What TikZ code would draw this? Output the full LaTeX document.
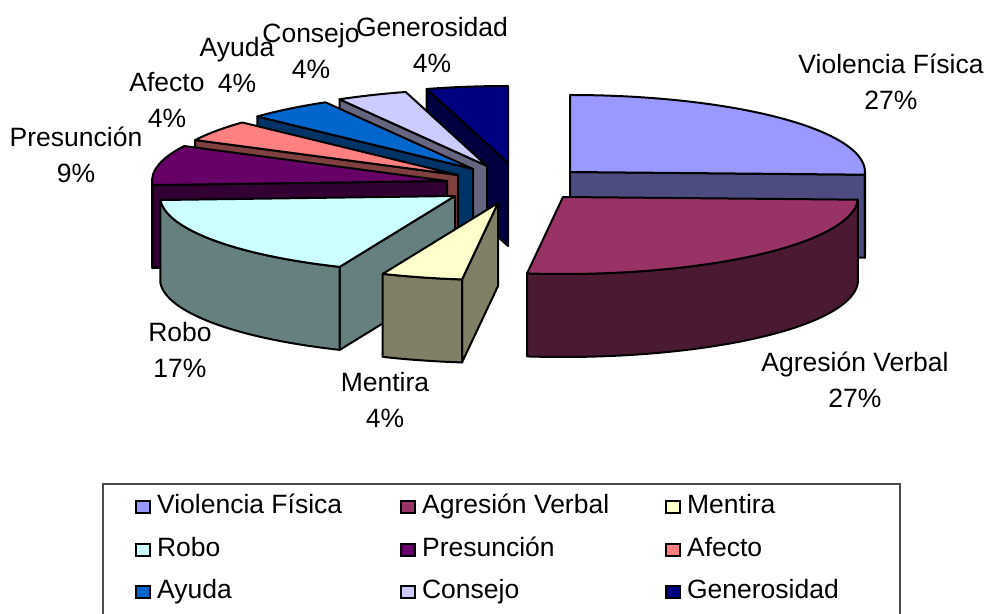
\documentclass[tikz,border=0pt]{standalone}
\usepackage{fontspec}
\setmainfont{Liberation Sans}
\usepackage{tikz}
\usetikzlibrary{positioning}

\definecolor{violencia}{HTML}{9999FF}
\definecolor{agresion}{HTML}{993366}
\definecolor{mentira}{HTML}{FFFFCC}
\definecolor{robo}{HTML}{CCFFFF}
\definecolor{presuncion}{HTML}{660066}
\definecolor{afecto}{HTML}{FF8080}
\definecolor{ayuda}{HTML}{0066CC}
\definecolor{consejo}{HTML}{CCCCFF}
\definecolor{generosidad}{HTML}{000080}

\begin{document}
\begin{tikzpicture}[x=0.5pt,y=-0.5pt,
        pie/.style={x radius=295,y radius=77},
        piece/.style={draw=black,line width=1pt,line join=round},
        lbl/.style={align=center,inner sep=0pt,font=\fontsize{13.25}{18}\selectfont},
        key/.style={draw=black,line width=0.7pt,minimum width=7pt,minimum height=6pt,inner sep=0pt},
        keytext/.style={inner sep=0pt,text height=9.5pt,text depth=2.8pt,font=\fontsize{13.25}{16}\selectfont}]
    \useasboundingbox (0,0) rectangle (992,614);

    % back slices first
    \begin{scope}[shift={(508,163)}] % Generosidad
        \filldraw[piece,fill=generosidad!50!black] (0,0) -- (254:295 and 77) -- ++(0,83) -- (0,83) -- cycle;
        \filldraw[piece,fill=generosidad] (0,0) -- (254:295 and 77) arc[pie,start angle=254,end angle=270] -- cycle;
    \end{scope}
    \begin{scope}[shift={(487,166)}] % Consejo
        \filldraw[piece,fill=consejo!50!black] (0,0) -- (240:295 and 77) -- ++(0,83) -- (0,83) -- cycle;
        \filldraw[piece,fill=consejo] (0,0) -- (240:295 and 77) arc[pie,start angle=240,end angle=254] -- cycle;
    \end{scope}
    \begin{scope}[shift={(473,169)}] % Ayuda
        \filldraw[piece,fill=ayuda!50!black] (0,0) -- (223:295 and 77) -- ++(0,83) -- (0,83) -- cycle;
        \filldraw[piece,fill=ayuda] (0,0) -- (223:295 and 77) arc[pie,start angle=223,end angle=240] -- cycle;
    \end{scope}
    \begin{scope}[shift={(458,175)}] % Afecto
        \filldraw[piece,fill=afecto!50!black] (0,0) -- (207:295 and 77) -- ++(0,83) -- (0,83) -- cycle;
        \filldraw[piece,fill=afecto] (0,0) -- (207:295 and 77) arc[pie,start angle=207,end angle=223] -- cycle;
    \end{scope}
    \begin{scope}[shift={(447,181)}] % Presuncion
        \filldraw[piece,fill=presuncion!50!black] (0,0) -- (177:295 and 77) -- ++(0,83) -- (0,83) -- cycle;
        \filldraw[piece,fill=presuncion!50!black] (177:295 and 77) arc[pie,start angle=177,end angle=180] -- ++(0,83) arc[pie,start angle=180,end angle=177] -- cycle;
        \filldraw[piece,fill=presuncion] (0,0) -- (177:295 and 77) arc[pie,start angle=177,end angle=207] -- cycle;
    \end{scope}
    \begin{scope}[shift={(455,196)}] % Robo
        \filldraw[piece,fill=robo!50!black] (0,0) -- (113:295 and 77) -- ++(0,83) -- (0,83) -- cycle;
        \filldraw[piece,fill=robo!50!black] (113:295 and 77) arc[pie,start angle=113,end angle=177] -- ++(0,83) arc[pie,start angle=177,end angle=113] -- cycle;
        \filldraw[piece,fill=robo] (0,0) -- (113:295 and 77) arc[pie,start angle=113,end angle=177] -- cycle;
    \end{scope}
    \begin{scope}[shift={(498,203)}] % Mentira
        \filldraw[piece,fill=mentira!50!black] (0,0) -- (97:295 and 77) -- ++(0,83) -- (0,83) -- cycle;
        \filldraw[piece,fill=mentira!50!black] (97:295 and 77) arc[pie,start angle=97,end angle=113] -- ++(0,83) arc[pie,start angle=113,end angle=97] -- cycle;
        \filldraw[piece,fill=mentira] (0,0) -- (97:295 and 77) arc[pie,start angle=97,end angle=113] -- cycle;
    \end{scope}
    \begin{scope}[shift={(570,172)}] % Violencia Fisica
        \filldraw[piece,fill=violencia!50!black] (0,0) -- (2:295 and 77) -- ++(0,83) -- (0,83) -- cycle;
        \filldraw[piece,fill=violencia!50!black] (0:295 and 77) arc[pie,start angle=0,end angle=2] -- ++(0,83) arc[pie,start angle=2,end angle=0] -- cycle;
        \filldraw[piece,fill=violencia] (0,0) -- (-90:295 and 77) arc[pie,start angle=-90,end angle=2] -- cycle;
    \end{scope}
    \begin{scope}[shift={(563,197)}] % Agresion Verbal
        \filldraw[piece,fill=agresion!50!black] (2:295 and 77) arc[pie,start angle=2,end angle=97] -- ++(0,83) arc[pie,start angle=97,end angle=2] -- cycle;
        \filldraw[piece,fill=agresion] (0,0) -- (2:295 and 77) arc[pie,start angle=2,end angle=97] -- cycle;
    \end{scope}

    % data labels
    \node[lbl] (lviolencia) at (891,82) {Violencia Física\\27\%};
    \node[lbl] (lagresion) at (855,380) {Agresión Verbal\\27\%};
    \node[lbl] (lmentira) at (385,400) {Mentira\\4\%};
    \node[lbl] (lrobo) at (180,350) {Robo\\17\%};
    \node[lbl] (lpresuncion) at (76,155) {Presunción\\9\%};
    \node[lbl] (lafecto) at (167,100) {Afecto\\4\%};
    \node[lbl] (layuda) at (237,65) {Ayuda\\4\%};
    \node[lbl] (lconsejo) at (311,51) {Consejo\\4\%};
    \node[lbl] (lgenerosidad) at (432,45) {Generosidad\\4\%};

    % legend
    \draw[black!70,line width=0.6pt] (103,484) rectangle (900,660);
    \node[key,fill=violencia] (kviolencia) at (143,507) {};
    \node[key,fill=agresion] (kagresion) at (408,507) {};
    \node[key,fill=mentira] (kmentira) at (673,507) {};
    \node[key,fill=robo] (krobo) at (143,550) {};
    \node[key,fill=presuncion] (kpresuncion) at (408,550) {};
    \node[key,fill=afecto] (kafecto) at (673,550) {};
    \node[key,fill=ayuda] (kayuda) at (143,592) {};
    \node[key,fill=consejo] (kconsejo) at (408,592) {};
    \node[key,fill=generosidad] (kgenerosidad) at (673,592) {};
    \node[keytext,right=3pt of kviolencia] (tviolencia) {Violencia Física};
    \node[keytext,right=3pt of kagresion] (tagresion) {Agresión Verbal};
    \node[keytext,right=3pt of kmentira] (tmentira) {Mentira};
    \node[keytext,right=3pt of krobo] (trobo) {Robo};
    \node[keytext,right=3pt of kpresuncion] (tpresuncion) {Presunción};
    \node[keytext,right=3pt of kafecto] (tafecto) {Afecto};
    \node[keytext,right=3pt of kayuda] (tayuda) {Ayuda};
    \node[keytext,right=3pt of kconsejo] (tconsejo) {Consejo};
    \node[keytext,right=3pt of kgenerosidad] (tgenerosidad) {Generosidad};
\end{tikzpicture}
\end{document}
